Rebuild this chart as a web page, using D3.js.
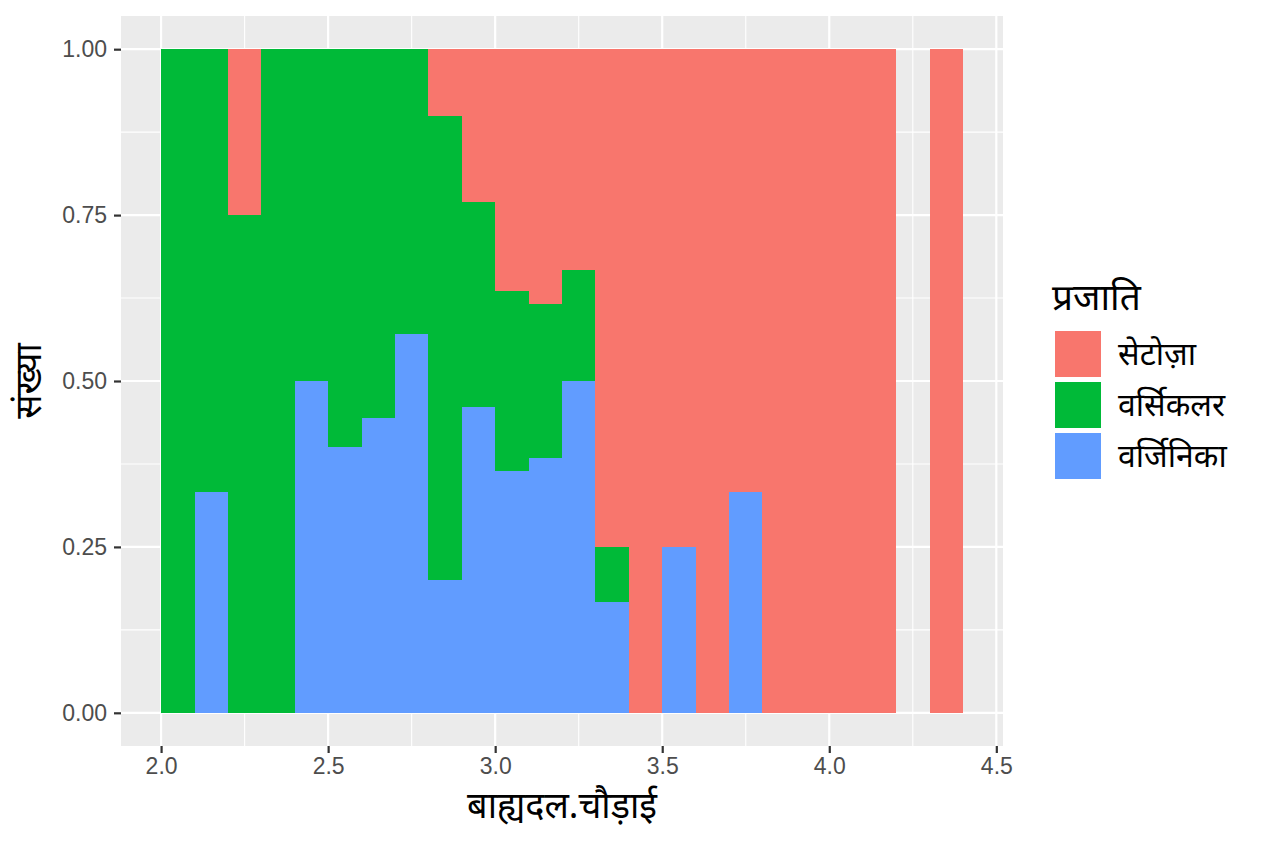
<!DOCTYPE html>
<html>
<head>
<meta charset="utf-8">
<script src="https://cdn.jsdelivr.net/npm/d3@7"></script>
<style>
  body { margin: 0; background: #fff; }
  svg { display: block; }
</style>
</head>
<body>
<svg id="chart"></svg>
<script>
// Bin left edges (width 0.1)
var binStarts = [2.0, 2.1, 2.2, 2.3, 2.4, 2.5, 2.6, 2.7, 2.8, 2.9, 3.0, 3.1,
                 3.2, 3.3, 3.4, 3.5, 3.6, 3.7, 3.8, 3.9, 4.0, 4.1, 4.2, 4.3];
var binWidth = 0.1;

// Counts per bin and species
var setosa     = [0, 0, 1, 0, 0, 0, 0, 0, 1, 6, 4, 5, 2, 9, 6, 3, 3, 4, 2, 1, 1, 1, 0, 1];
var versicolor = [1, 2, 3, 3, 4, 3, 5, 6, 7, 8, 3, 3, 1, 1, 0, 0, 0, 0, 0, 0, 0, 0, 0, 0];
var virginica  = [0, 1, 0, 0, 4, 2, 4, 8, 2, 12, 4, 5, 3, 2, 0, 1, 0, 2, 0, 0, 0, 0, 0, 0];

var species = ["सेटोज़ा", "वर्सिकलर", "वर्जिनिका"];
var colors = ["#F8766D", "#00BA38", "#619CFF"];

var xTicks = [2.0, 2.5, 3.0, 3.5, 4.0, 4.5];
var yTicks = [0, 0.25, 0.5, 0.75, 1.0];

var W = 1264, H = 843;
var panel = { left: 121, top: 16, right: 1003, bottom: 746 };

var svg = d3.select("#chart").attr("width", W).attr("height", H);

var x = d3.scaleLinear().domain([1.88, 4.52]).range([panel.left, panel.right]);
var y = d3.scaleLinear().domain([-0.05, 1.05]).range([panel.bottom, panel.top]);

// Panel background
svg.append("rect")
    .attr("x", panel.left).attr("y", panel.top)
    .attr("width", panel.right - panel.left)
    .attr("height", panel.bottom - panel.top)
    .attr("fill", "#EBEBEB");

// Minor grid
var xMinor = [2.25, 2.75, 3.25, 3.75, 4.25];
var yMinor = [0.125, 0.375, 0.625, 0.875];
var grid = svg.append("g");
xMinor.forEach(function(v) {
    grid.append("line").attr("x1", x(v)).attr("x2", x(v))
        .attr("y1", panel.top).attr("y2", panel.bottom)
        .attr("stroke", "#fff").attr("stroke-width", 1.1);
});
yMinor.forEach(function(v) {
    grid.append("line").attr("y1", y(v)).attr("y2", y(v))
        .attr("x1", panel.left).attr("x2", panel.right)
        .attr("stroke", "#fff").attr("stroke-width", 1.1);
});
// Major grid
xTicks.forEach(function(v) {
    grid.append("line").attr("x1", x(v)).attr("x2", x(v))
        .attr("y1", panel.top).attr("y2", panel.bottom)
        .attr("stroke", "#fff").attr("stroke-width", 2.2);
});
yTicks.forEach(function(v) {
    grid.append("line").attr("y1", y(v)).attr("y2", y(v))
        .attr("x1", panel.left).attr("x2", panel.right)
        .attr("stroke", "#fff").attr("stroke-width", 2.2);
});

// Stacked filled bars: virginica bottom, versicolor middle, setosa top
var series = [virginica, versicolor, setosa];
var seriesColors = [colors[2], colors[1], colors[0]];
var bars = svg.append("g").attr("shape-rendering", "crispEdges");
binStarts.forEach(function(b, i) {
    var total = setosa[i] + versicolor[i] + virginica[i];
    if (total === 0) return;
    var acc = 0;
    series.forEach(function(s, k) {
        if (s[i] === 0) return;
        var y0 = acc / total;
        acc += s[i];
        var y1 = acc / total;
        bars.append("rect")
            .attr("x", Math.round(x(b)))
            .attr("width", Math.round(x(b + binWidth)) - Math.round(x(b)))
            .attr("y", Math.round(y(y1)))
            .attr("height", Math.round(y(y0)) - Math.round(y(y1)))
            .attr("fill", seriesColors[k]);
    });
});

// Axes
var xAxis = d3.axisBottom(x).tickValues(xTicks).tickFormat(d3.format(".1f"))
    .tickSize(7).tickPadding(5);
var yAxis = d3.axisLeft(y).tickValues(yTicks).tickFormat(d3.format(".2f"))
    .tickSize(7).tickPadding(7);

var gx = svg.append("g").attr("transform", "translate(0," + panel.bottom + ")").call(xAxis);
var gy = svg.append("g").attr("transform", "translate(" + panel.left + ",0)").call(yAxis);
[gx, gy].forEach(function(g) {
    g.select(".domain").remove();
    g.selectAll(".tick line").attr("stroke", "#333").attr("stroke-width", 2.2);
    g.selectAll(".tick text")
        .attr("fill", "#4D4D4D")
        .style("font-family", "Liberation Sans, Arial, sans-serif")
        .style("font-size", "23px");
});

// Axis titles
svg.append("text")
    .attr("x", (panel.left + panel.right) / 2)
    .attr("y", 818)
    .attr("text-anchor", "middle")
    .style("font-family", "Noto Sans, sans-serif")
    .style("font-size", "36px")
    .text("बाह्यदल.चौड़ाई");

svg.append("text")
    .attr("transform", "translate(41," + ((panel.top + panel.bottom) / 2) + ") rotate(-90)")
    .attr("text-anchor", "middle")
    .style("font-family", "Noto Sans, sans-serif")
    .style("font-size", "36px")
    .text("संख्या");

// Legend
var legend = svg.append("g").attr("transform", "translate(1052,0)");
legend.append("text")
    .attr("x", 0).attr("y", 310)
    .style("font-family", "Noto Sans, sans-serif")
    .style("font-size", "37px")
    .text("प्रजाति");

species.forEach(function(name, i) {
    var top = 331 + i * 51;
    legend.append("rect")
        .attr("x", 3).attr("y", top)
        .attr("width", 46).attr("height", 46)
        .attr("fill", colors[i]);
    legend.append("text")
        .attr("x", 66).attr("y", top + 34)
        .style("font-family", "Noto Sans, sans-serif")
        .style("font-size", "32px")
        .text(name);
});
</script>
</body>
</html>
